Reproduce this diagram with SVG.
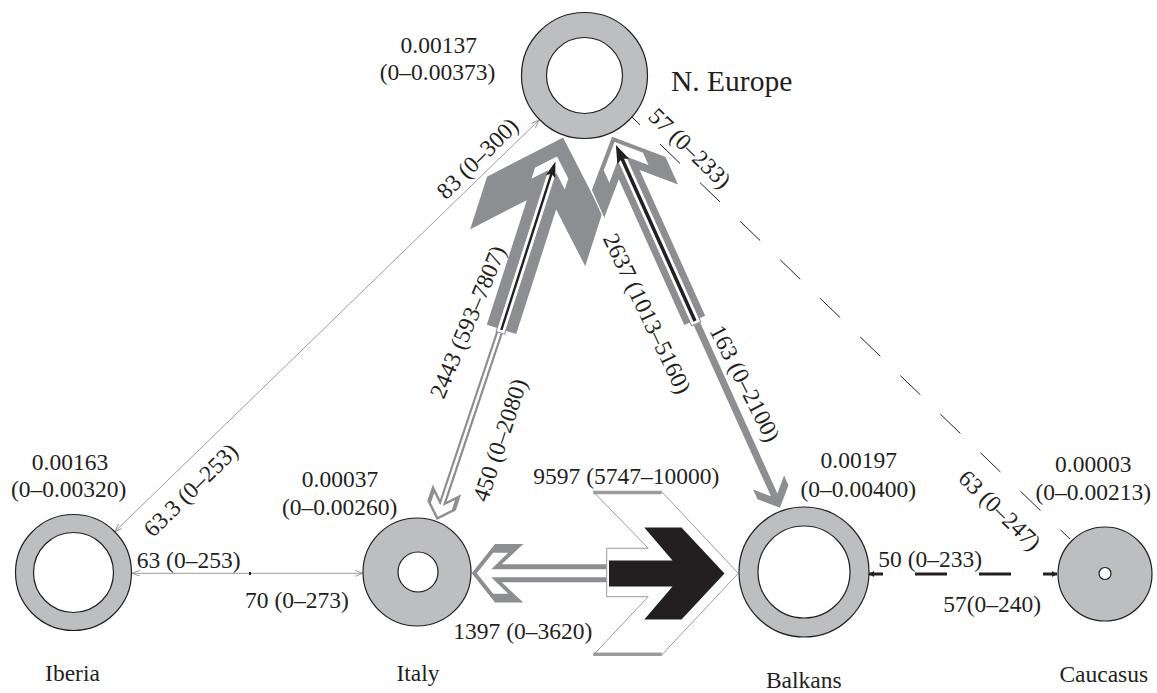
<svg xmlns="http://www.w3.org/2000/svg" width="1157" height="693" viewBox="0 0 1157 693">
<style>
.ring{fill:#bcbec0;stroke:#231f20;stroke-width:1.2}
.hole{fill:#fff;stroke:#231f20;stroke-width:1.2}
.t{font-family:"Liberation Serif","Times New Roman",serif;font-size:23.5px;fill:#231f20}
.m{text-anchor:middle}
.g{fill:#8d8e92}
.gs{fill:#8d8e92;stroke:#fff;stroke-width:1.2}
.w{fill:#fff}
.wo{fill:#fff;stroke:#8d8e92;stroke-width:1}
.k{fill:#231f20}
.thin{stroke:#9a9b9e;stroke-width:1;fill:none}
</style>
<defs>
<marker id="ga" markerUnits="userSpaceOnUse" markerWidth="9" markerHeight="7" refX="8" refY="3" orient="auto-start-reverse">
<path d="M0,0 L8,3 L0,6" fill="none" stroke="#9a9b9e" stroke-width="1"/>
</marker>
<marker id="ka" markerUnits="userSpaceOnUse" markerWidth="7" markerHeight="7" refX="5" refY="3" orient="auto-start-reverse">
<path d="M0,0 L5,3 L0,6 z" fill="#231f20"/>
</marker>
</defs>
<rect width="1157" height="693" fill="#fff"/>
<g id="connectors">
<!-- Iberia - N. Europe -->
<line class="thin" x1="115" y1="531.5" x2="539" y2="120" marker-start="url(#ga)" marker-end="url(#ga)"/>
<!-- Iberia - Italy -->
<line class="thin" x1="250" y1="573.3" x2="132" y2="573.3" marker-end="url(#ga)"/>
<line class="thin" x1="250" y1="573.3" x2="363" y2="573.3" marker-end="url(#ga)"/>
<rect x="249" y="572" width="2" height="3" fill="#231f20"/>
<!-- N. Europe - Caucasus dashed -->
<line x1="630" y1="115.2" x2="1070" y2="539" stroke="#231f20" stroke-width="1" stroke-dasharray="27.8 27.8" stroke-dashoffset="13.9"/>
<!-- Balkans - Caucasus thick dashed -->
<line x1="869" y1="574" x2="1057" y2="574" stroke="#231f20" stroke-width="3" stroke-dasharray="32 32" stroke-dashoffset="18" marker-start="url(#ka)" marker-end="url(#ka)"/>
<!-- 450: N. Europe -> Italy -->
<g transform="translate(500,331) rotate(108.5)">
<polygon class="g" points="0,3.5 178.5,3.5 167,15 184.3,15 199.3,0 184.3,-15 167,-15 178.5,-3.5 0,-3.5"/>
<polygon class="w" points="1,1.3 184.2,1.3 174.5,11 184.8,11 195.8,0 184.8,-11 174.5,-11 184.2,-1.3 1,-1.3"/>
</g>
<!-- 163: N. Europe -> Balkans -->
<g transform="translate(697,324) rotate(65.7)">
<polygon class="g" points="0,3.5 187.5,3.5 174,17 184.6,17 201.6,0 184.6,-17 174,-17 187.5,-3.5 0,-3.5"/>
</g>
<!-- 2443: Italy -> N. Europe -->
<g transform="translate(501.3,330) rotate(-72.2)">
<polygon class="gs" points="0,16 130,16 85,61 142,61 203,0 142,-61 85,-61 130,-16 0,-16"/>
<polygon class="wo" points="-3,4.5 165.5,4.5 152,18 165,18 183,0 165,-18 152,-18 165.5,-4.5 -3,-4.5"/>
<line x1="0" y1="0" x2="166" y2="0" stroke="#231f20" stroke-width="2.4"/>
<polygon class="k" points="161,-5 177,0 161,5 164,0"/>
</g>
<!-- 2637: Balkans -> N. Europe -->
<g transform="translate(695,321) rotate(-114.2)">
<polygon class="gs" points="0,12 159,12 130,41 162,41 203,0 162,-41 130,-41 159,-12 0,-12"/>
<polygon class="wo" points="-3,5 177,5 160,22 175,22 197,0 175,-22 160,-22 177,-5 -3,-5"/>
<line x1="0" y1="0" x2="179" y2="0" stroke="#231f20" stroke-width="3.5"/>
<polygon class="k" points="175,-6.5 193,0 175,6.5 178,0"/>
</g>
<!-- 1397: Balkans -> Italy -->
<g transform="translate(606.7,573.3) rotate(180)">
<polygon class="g" points="0,9 105,9 83.4,29.3 111.7,29.3 135,0 111.7,-29.3 83.4,-29.3 105,-9 0,-9"/>
<polygon class="w" points="0,4 115.5,4 98.5,20.5 113.5,20.5 129.9,0 113.5,-20.5 98.5,-20.5 115.5,-4 0,-4"/>
</g>
<!-- 9597: Italy -> Balkans -->
<polygon points="606.7,548.3 648.3,548.3 593.3,491.7 661.7,491.7 738.3,573.3 661.7,655 593.3,655 648.3,596.7 606.7,596.7" fill="#fff" stroke="#9a9b9e" stroke-width="1"/>
<line x1="593.3" y1="492.5" x2="661.7" y2="492.5" stroke="#9a9b9e" stroke-width="3.5"/>
<line x1="593.3" y1="654.2" x2="661.7" y2="654.2" stroke="#9a9b9e" stroke-width="3.5"/>
<polygon class="k" points="609,560.5 672.5,560.5 644.3,527.5 681.5,527.5 724.5,573.5 681.5,619.5 644.3,619.5 672.5,586.5 609,586.5"/>
</g>
<g id="edge-labels" class="t">
<text x="483" y="164" class="m" transform="rotate(-44.6 483 164)">83 (0–300)</text>
<text x="196.3" y="495.7" class="m" transform="rotate(-44.6 196.3 495.7)">63.3 (0–253)</text>
<text x="684.4" y="153.8" class="m" transform="rotate(44 684.4 153.8)">57 (0–233)</text>
<text x="994.4" y="515.8" class="m" transform="rotate(44 994.4 515.8)">63 (0–247)</text>
<text x="475" y="325" class="m" transform="rotate(-67.3 475 325)">2443 (593–7807)</text>
<text x="507.4" y="442.5" class="m" transform="rotate(-71.6 507.4 442.5)">450 (0–2080)</text>
<text x="640" y="317" class="m" transform="rotate(64.5 640 317)">2637 (1013–5160)</text>
<text x="738" y="387" class="m" transform="rotate(63 738 387)">163 (0–2100)</text>
<text x="136.7" y="568">63 (0–253)</text>
<text x="245" y="608">70 (0–273)</text>
<text x="533.3" y="484">9597 (5747–10000)</text>
<text x="453.3" y="639">1397 (0–3620)</text>
<text x="878.3" y="566.7">50 (0–233)</text>
<text x="943.3" y="611.7">57(0–240)</text>
</g>
<g id="n-europe">
<circle class="ring" cx="584.5" cy="75.5" r="63"/>
<circle class="hole" cx="584.5" cy="75.5" r="38"/>
<text class="t m" x="438.7" y="52.5">0.00137</text>
<text class="t m" x="437.5" y="80">(0–0.00373)</text>
<text class="t" x="671" y="90.5" style="font-size:29.5px">N. Europe</text>
</g>
<g id="iberia">
<circle class="ring" cx="73.5" cy="572.5" r="58"/>
<circle class="hole" cx="73.5" cy="572.5" r="40"/>
<text class="t m" x="70" y="470">0.00163</text>
<text class="t m" x="68.7" y="497">(0–0.00320)</text>
<text class="t m" x="72.5" y="681">Iberia</text>
</g>
<g id="italy">
<circle class="ring" cx="417" cy="572" r="54"/>
<circle class="hole" cx="418" cy="572" r="20"/>
<text class="t m" x="340" y="487">0.00037</text>
<text class="t m" x="339.7" y="515">(0–0.00260)</text>
<text class="t m" x="418" y="681">Italy</text>
</g>
<g id="balkans">
<circle class="ring" cx="804" cy="572" r="65"/>
<circle class="hole" cx="804" cy="572" r="46"/>
<text class="t m" x="858.8" y="468">0.00197</text>
<text class="t m" x="858.3" y="496.5">(0–0.00400)</text>
<text class="t m" x="803.8" y="688">Balkans</text>
</g>
<g id="caucasus">
<circle class="ring" cx="1105" cy="574" r="47"/>
<circle class="hole" cx="1105" cy="573.5" r="6"/>
<text class="t m" x="1093.3" y="471.5">0.00003</text>
<text class="t m" x="1093.3" y="500">(0–0.00213)</text>
<text class="t m" x="1103.8" y="681.5">Caucasus</text>
</g>
</svg>
